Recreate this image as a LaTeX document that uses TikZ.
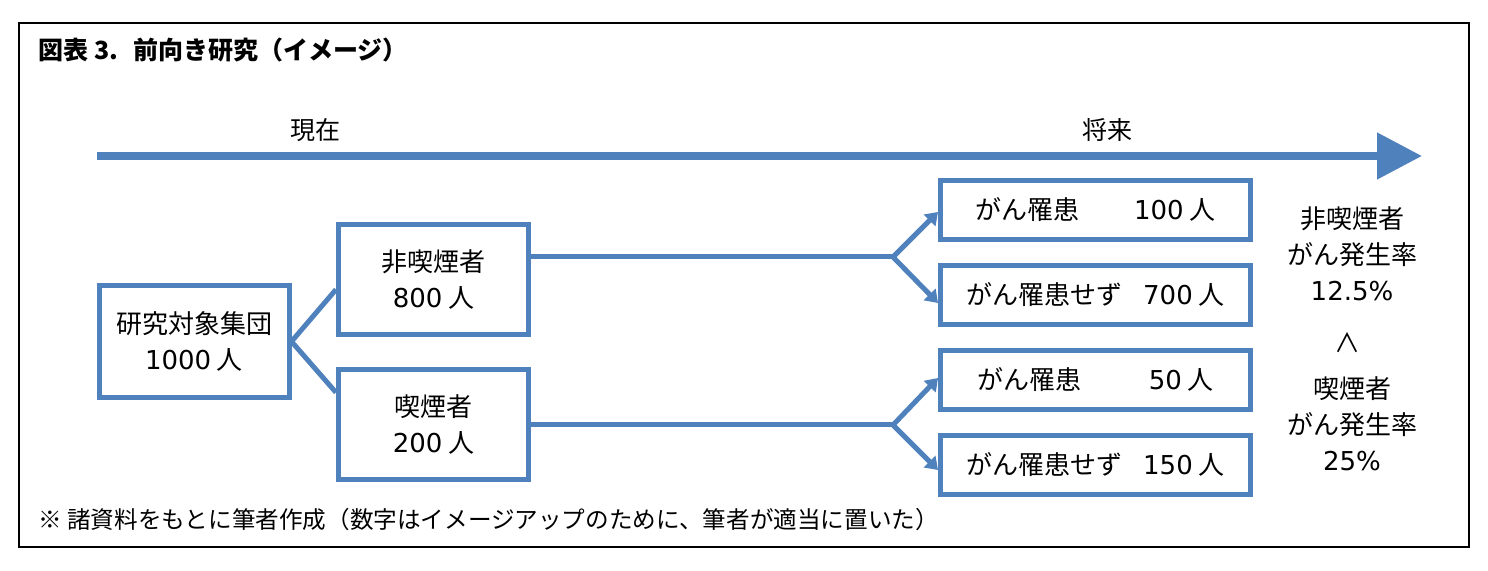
\documentclass[tikz,border=0pt]{standalone}
\usepackage{fontspec}
\setmainfont{Noto Sans CJK JP}
\newfontfamily\numfont{DejaVu Sans}
\newcommand{\cnt}[1]{{\numfont #1}}
\usetikzlibrary{arrows.meta}
\usetikzlibrary{calc}
\usetikzlibrary{positioning}
\definecolor{boxblue}{HTML}{4F81BD}
\tikzset{
    every node/.append style={
        font=\fontsize{13}{18}\selectfont,
        align=center,
        inner sep=0pt
    },
    group/.style={
        draw=boxblue,
        line width=2.5pt,
        minimum width=95pt,
        minimum height=55pt
    },
    outcome/.style={
        draw=boxblue,
        line width=2.5pt,
        minimum width=155pt,
        minimum height=29.5pt
    },
    link/.style={
        draw=boxblue,
        line width=2.5pt
    },
    branch/.style={
        link,
        -{Triangle[length=6pt,width=8pt]}
    },
    timeline/.style={
        draw=boxblue,
        line width=4pt,
        -{Triangle[length=22.5pt,width=22.5pt]}
    }
}

\begin{document}
\begin{tikzpicture}[x=0.5pt, y=-0.5pt]
    \useasboundingbox (0,0) rectangle (1488,571);
    \draw[line width=1.2pt] (19,23) rectangle (1469,547);

    \node[anchor=west, font=\fontsize{12.5}{15}\selectfont\bfseries] (title) at (38,50) {図表 3.\hspace{0.6em}前向き研究（イメージ）};

    % time axis
    \coordinate (start) at (97,156);
    \coordinate (finish) at (1422,156);
    \draw[timeline] (start) -- (finish);
    \node[font=\fontsize{12.5}{15}\selectfont] (now) at (315,130) {現在};
    \node[font=\fontsize{12.5}{15}\selectfont] (later) at (1107,130) {将来};

    % groups
    \node[group, minimum height=56pt] (cohort) at (194,341.5) {研究対象集団\\\cnt{1000} 人};
    \node[group] (nonsmk) at (433.5,279.5) {非喫煙者\\\cnt{800} 人};
    \node[group, below=15pt of nonsmk] (smk) {喫煙者\\\cnt{200} 人};

    \draw[link] (cohort.east) -- ($(nonsmk.west)+(0,10)$);
    \draw[link] (cohort.east) -- ($(smk.west)+(0,-32)$);

    % outcomes
    \node[outcome] (r1) at (1095.5,210) {がん罹患\hspace{2.1em}\cnt{100} 人};
    \node[outcome, below=10.5pt of r1] (r2) {がん罹患せず\hspace{0.8em}\cnt{700} 人};
    \node[outcome, below=10.5pt of r2] (r3) {がん罹患\hspace{2.6em}\cnt{50} 人};
    \node[outcome, below=10.5pt of r3] (r4) {がん罹患せず\hspace{0.8em}\cnt{150} 人};

    \coordinate (fork1) at (893,257);
    \coordinate (fork2) at (893,425);
    \draw[link] (nonsmk.east |- fork1) -- (fork1);
    \draw[link] (smk.east |- fork2) -- (fork2);
    \draw[branch] (fork1) -- ($(r1.west)+(0,2)$);
    \draw[branch] (fork1) -- ($(r2.west)+(0,8)$);
    \draw[branch] (fork2) -- ($(r3.west)+(0,-2)$);
    \draw[branch] (fork2) -- ($(r4.west)+(0,5)$);

    % rates
    \node (nsrate) at (1352,254) {非喫煙者\\がん発生率\\\cnt{12.5\%}};
    \node (cmp) at (1347,343) {∧};
    \node (srate) at (1352,424) {喫煙者\\がん発生率\\\cnt{25\%}};

    \node[anchor=west, font=\fontsize{11.8}{14}\selectfont] (note) at (38,520) {※ 諸資料をもとに筆者作成（数字はイメージアップのために、筆者が適当に置いた）};
\end{tikzpicture}
\end{document}
